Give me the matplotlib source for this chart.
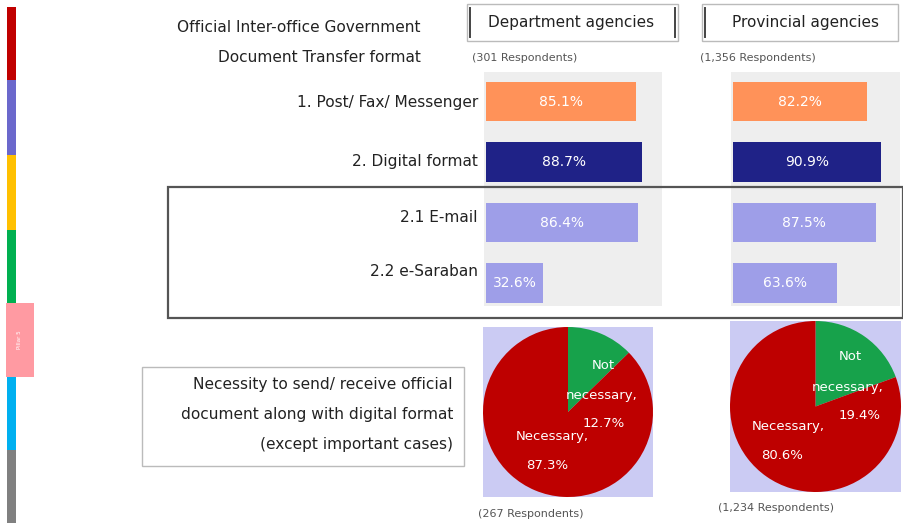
import matplotlib
matplotlib.use("Agg")
import matplotlib.pyplot as plt
from matplotlib.patches import Rectangle
from matplotlib.transforms import Affine2D

# ---- data ----
row_labels = ["1. Post/ Fax/ Messenger", "2. Digital format", "2.1 E-mail", "2.2 e-Saraban"]
dept_values = [85.1, 88.7, 86.4, 32.6]
prov_values = [82.2, 90.9, 87.5, 63.6]
bar_colors = ["#FF9259", "#1F2287", "#9E9EE8", "#9E9EE8"]

groups = ["Department agencies", "Provincial agencies"]
bar_respondents = ["(301 Respondents)", "(1,356 Respondents)"]
pie_respondents = ["(267 Respondents)", "(1,234 Respondents)"]
pie_labels = ["Not\nnecessary,", "Necessary,"]
dept_pie = [12.7, 87.3]
prov_pie = [19.4, 80.6]
pie_colors = ["#17A24B", "#BE0000"]

strip_colors = ["#C00000", "#6B68CC", "#FFC000", "#00B050", "#FF9AA2", "#00B0F0", "#808080"]

W, H = 904, 525
TXT = "#222222"
fig = plt.figure(figsize=(W / 100, H / 100), dpi=100)
fig.patch.set_facecolor("white")
px = Affine2D().scale(1 / W, -1 / H).translate(0, 1) + fig.transFigure


def add_axes_px(x0, y0, x1, y1):
    return fig.add_axes([x0 / W, 1 - y1 / H, (x1 - x0) / W, (y1 - y0) / H])


def label(x, y, s, **kw):
    kw.setdefault("fontsize", 11.1)
    kw.setdefault("color", TXT)
    kw.setdefault("va", "center")
    return fig.text(x / W, 1 - y / H, s, **kw)


# side strip of section colours
seg_top = [7, 80, 155, 230, 303, 377, 450]
seg_bot = [80, 155, 230, 303, 377, 450, 523]
for c, t, b in zip(strip_colors, seg_top, seg_bot):
    x0, x1 = (6, 34) if c == "#FF9AA2" else (7, 16)
    fig.add_artist(Rectangle((x0, t), x1 - x0, b - t, transform=px, facecolor=c,
                             edgecolor="none", zorder=1))
label(20, 340, "Pillar 5", rotation=90, fontsize=4, color="white", ha="center")

# title lines
label(421, 27, "Official Inter-office Government", ha="right")
label(421, 58, "Document Transfer format", ha="right")

# group header boxes
for (x0, x1, dark_r), name, cx in [((467, 678, True), groups[0], 571),
                                    ((702, 898, False), groups[1], 806)]:
    fig.add_artist(Rectangle((x0, 4), x1 - x0, 37, transform=px, facecolor="white",
                             edgecolor="#BBBBBB", linewidth=1.0, zorder=2))
    fig.add_artist(plt.Line2D([x0 + 3, x0 + 3], [8, 37], transform=px, color="#444444",
                              linewidth=1.4, zorder=3))
    if dark_r:
        fig.add_artist(plt.Line2D([x1 - 3, x1 - 3], [8, 37], transform=px, color="#444444",
                                  linewidth=1.4, zorder=3))
    label(cx, 22, name, ha="center", fontsize=11, zorder=4)

label(472, 58, bar_respondents[0], ha="left", fontsize=8, color="#555555")
label(700, 58, bar_respondents[1], ha="left", fontsize=8, color="#555555")

# row labels
for y, s in zip([102, 162, 217, 272], row_labels):
    label(478, y, s, ha="right")


# bar panels
def bar_panel(x0, x1, bar_start, px_per_pct, values):
    ax = add_axes_px(x0, 72, x1, 306)
    ax.set_facecolor("#EEEEEE")
    ypos = list(range(len(values)))
    ax.barh(ypos, values, height=0.66, color=bar_colors, zorder=2)
    for y, v in zip(ypos, values):
        ax.text(v / 2, y, f"{v:.1f}%", ha="center", va="center", color="white",
                fontsize=10, zorder=3)
    ax.set_xlim(-(bar_start - x0) / px_per_pct, (x1 - bar_start) / px_per_pct)
    ax.set_ylim(3.38, -0.488)
    ax.set_xticks([])
    ax.set_yticks([])
    for sp in ax.spines.values():
        sp.set_visible(False)


bar_panel(484, 662, 486, 1.763, dept_values)
bar_panel(731, 900, 733, 1.63, prov_values)

# frame around the digital sub-formats
fig.add_artist(Rectangle((168, 187), 735, 131, transform=px, facecolor="none",
                         edgecolor="#555555", linewidth=1.6, zorder=5))

# question box
fig.add_artist(Rectangle((142, 367), 322, 99, transform=px, facecolor="white",
                         edgecolor="#BBBBBB", linewidth=1.0, zorder=2))
label(453, 385, "Necessity to send/ receive official", ha="right", zorder=3)
label(453, 414, "document along with digital format", ha="right", zorder=3)
label(453, 445, "(except important cases)", ha="right", zorder=3)


# pies
def pie_panel(x0, y0, size, values, label_pos):
    ax = add_axes_px(x0, y0, x0 + size, y0 + size)
    ax.pie(values, colors=pie_colors, startangle=90, counterclock=False, radius=1.0,
           wedgeprops=dict(linewidth=0))
    ax.set_frame_on(True)
    ax.set_facecolor("#CBCBF3")
    ax.set_xlim(-1, 1)
    ax.set_ylim(-1, 1)
    ax.set_xticks([])
    ax.set_yticks([])
    for sp in ax.spines.values():
        sp.set_visible(False)
    for (lab, v), positions in zip(zip(pie_labels, values), label_pos):
        lines = lab.split("\n") + [f"{v:.1f}%"]
        for s, (x, y) in zip(lines, positions):
            ax.text(x, y, s, ha="center", va="center", color="white", fontsize=9.5)


pie_panel(483, 327, 170, dept_pie,
          [[(0.41, 0.55), (0.40, 0.20), (0.42, -0.13)],
           [(-0.19, -0.29), (-0.25, -0.63)]])
pie_panel(730, 321, 171, prov_pie,
          [[(0.41, 0.58), (0.37, 0.22), (0.52, -0.11)],
           [(-0.32, -0.23), (-0.39, -0.57)]])

label(478, 514, pie_respondents[0], ha="left", fontsize=8, color="#555555")
label(718, 508, pie_respondents[1], ha="left", fontsize=8, color="#555555")

fig.savefig("out.png", dpi=100)
